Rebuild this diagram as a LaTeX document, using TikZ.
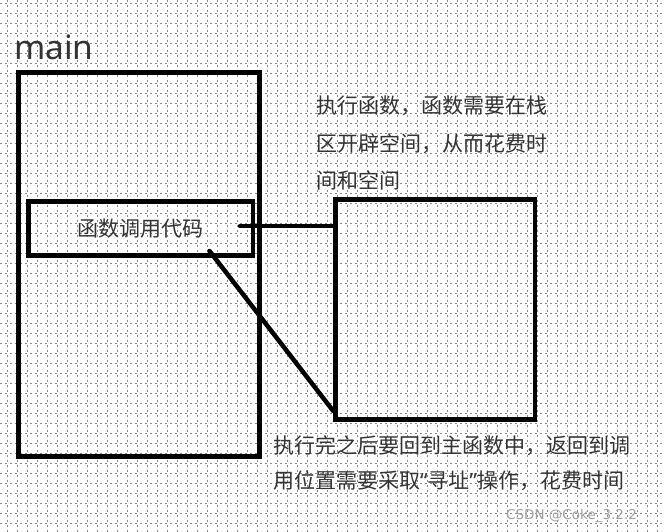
\documentclass[tikz,border=0pt]{standalone}
\usepackage{fontspec}
\setmainfont{Noto Sans}
\newfontfamily\cjk{Noto Sans CJK SC}
\newfontfamily\markfont{DejaVu Sans}
\newfontfamily\quotefont{Noto Sans}
\definecolor{ink}{HTML}{333333}
\definecolor{gridgray}{HTML}{8A8A8A}
\tikzstyle{gridline}=[gridgray, line width=0.7pt, dash pattern=on 2pt off 3pt]
\tikzstyle{box}=[draw=black, line width=4.5pt, inner sep=0pt, rectangle]
\tikzstyle{link}=[black, line width=4.5pt, line cap=round]
\tikzstyle{note}=[text=ink, inner sep=0pt, anchor=base west, font=\cjk\fontsize{21}{21}\selectfont]

\begin{document}
\begin{tikzpicture}[x=1pt, y=-1pt]
				\useasboundingbox (0,0) rectangle (664,532);
				\fill[white] (0,0) rectangle (664,532);

				% dotted paper
				\foreach \x in {7,17,...,657}
					\draw[gridline] (\x,0) -- (\x,532);
				\foreach \y in {3,13,...,523}
					\draw[gridline] (0,\y) -- (664,\y);

				\node[text=ink, inner sep=0pt, anchor=base west, font=\fontsize{33.5}{33.5}\selectfont] (title) at (14,59.5) {main};

				\node[box, minimum width=241pt, minimum height=384pt] (mainbox) at (139,264.5) {};
				\node[box, minimum width=224.5pt, minimum height=54pt, text=ink, font=\cjk\fontsize{21}{21}\selectfont] (callbox) at (140.75,228.5) {函数调用代码};
				\node[box, minimum width=199.5pt, minimum height=220pt] (funcbox) at (435.25,309.5) {};

				\coordinate (callpt) at (240,226);
				\coordinate (retpt) at (209.5,251);
				\coordinate (retend) at (funcbox.south west |- 0,411);

				\draw[link] (callpt) -- (funcbox.west |- callpt);
				\draw[link] (retpt) -- (retend);

				\node[note] (costa) at (316,113.5) {执行函数，函数需要在栈};
				\node[note] (costb) at (316,151.5) {区开辟空间，从而花费时};
				\node[note] (costc) at (316,188) {间和空间};

				\node[note] (backa) at (273,453.5) {执行完之后要回到主函数中，返回到调};
				\node[note] (backb) at (273,488) {用位置需要采取{\quotefont “}寻址{\quotefont ”}操作，花费时间};

				\node[text=gray!75, inner sep=0pt, anchor=base west, font=\markfont\fontsize{13.5}{13.5}\selectfont] (mark) at (506,519) {CSDN @Coke\_3.2.2};
			\end{tikzpicture}
\end{document}
